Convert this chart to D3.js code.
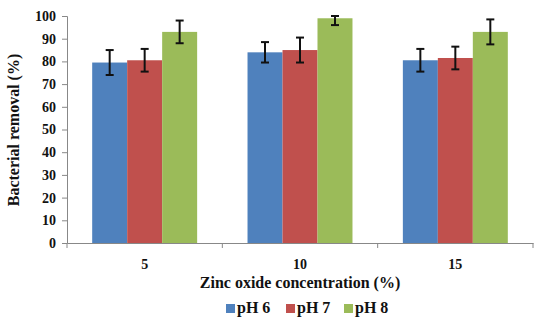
<!DOCTYPE html>
<html>
<head>
<meta charset="utf-8">
<script src="https://cdn.jsdelivr.net/npm/d3@7"></script>
<style>
  body { margin: 0; background: #fff; }
  text { font-family: "Liberation Serif", "Times New Roman", serif; font-weight: bold; fill: #111; }
</style>
</head>
<body>
<div id="svg-area"></div>
<script>
// Data
var concentrations = ["5", "10", "15"];
var seriesNames = ["pH 6", "pH 7", "pH 8"];
var ph6 = [79.5, 84, 80.5];
var ph7 = [80.5, 85, 81.5];
var ph8 = [93, 99, 93];
var ph6Err = [5.5, 4.5, 5];
var ph7Err = [5, 5.5, 5];
var ph8Err = [5, 3, 5.5];
var yTicks = [0, 10, 20, 30, 40, 50, 60, 70, 80, 90, 100];
var colors = ["#4f81bd", "#c0504d", "#9bbb59"];

var values = [ph6, ph7, ph8];
var errors = [ph6Err, ph7Err, ph8Err];

var svgWidth = 534;
var svgHeight = 321;

var margin = { top: 16, right: 1, bottom: 78, left: 67 };
var chartWidth = svgWidth - margin.left - margin.right;
var chartHeight = svgHeight - margin.top - margin.bottom;

var svg = d3.select("#svg-area")
  .append("svg")
  .attr("width", svgWidth)
  .attr("height", svgHeight);

var chartGroup = svg.append("g")
  .attr("transform", `translate(${margin.left}, ${margin.top})`);

var xBandScale = d3.scaleBand()
  .domain(concentrations)
  .range([0, chartWidth])
  .paddingInner(0)
  .paddingOuter(0);

var xInner = d3.scaleBand()
  .domain(seriesNames)
  .range([0, xBandScale.bandwidth()])
  .paddingOuter(0.72)
  .paddingInner(0);

var yLinearScale = d3.scaleLinear()
  .domain([0, 100])
  .range([chartHeight, 0]);

// bars
seriesNames.forEach(function(name, s) {
  chartGroup.selectAll(".bar-" + s)
    .data(concentrations)
    .enter()
    .append("rect")
    .attr("x", d => xBandScale(d) + xInner(name))
    .attr("y", (d, i) => yLinearScale(values[s][i]))
    .attr("width", xInner.bandwidth())
    .attr("height", (d, i) => chartHeight - yLinearScale(values[s][i]))
    .attr("fill", colors[s]);
});

// error bars
seriesNames.forEach(function(name, s) {
  concentrations.forEach(function(c, i) {
    var cx = xBandScale(c) + xInner(name) + xInner.bandwidth() / 2;
    var hi = yLinearScale(Math.min(100, values[s][i] + errors[s][i]));
    var lo = yLinearScale(values[s][i] - errors[s][i]);
    var g = chartGroup.append("g").attr("stroke", "#111").attr("stroke-width", 2);
    g.append("line").attr("x1", cx).attr("x2", cx).attr("y1", hi).attr("y2", lo);
    g.append("line").attr("x1", cx - 4).attr("x2", cx + 4).attr("y1", hi).attr("y2", hi);
    g.append("line").attr("x1", cx - 4).attr("x2", cx + 4).attr("y1", lo).attr("y2", lo);
  });
});

// axes
var bottomAxis = d3.axisBottom(xBandScale).tickSize(0).tickPadding(16);
var leftAxis = d3.axisLeft(yLinearScale).tickValues(yTicks).tickSize(5).tickPadding(6);

var xAxisG = chartGroup.append("g")
  .attr("transform", `translate(0, ${chartHeight})`)
  .call(bottomAxis);
xAxisG.select(".domain").attr("stroke", "#888");
xAxisG.selectAll("text").attr("font-size", 14);

// category separator ticks
chartGroup.selectAll(".sep")
  .data([0, 1, 2, 3])
  .enter()
  .append("line")
  .attr("x1", d => d * xBandScale.step())
  .attr("x2", d => d * xBandScale.step())
  .attr("y1", chartHeight)
  .attr("y2", chartHeight + 5)
  .attr("stroke", "#888");

var yAxisG = chartGroup.append("g").call(leftAxis);
yAxisG.select(".domain").attr("stroke", "#888");
yAxisG.selectAll(".tick line").attr("stroke", "#888");
yAxisG.selectAll("text").attr("font-size", 14);

// axis titles
svg.append("text")
  .attr("x", 300)
  .attr("y", 288)
  .attr("text-anchor", "middle")
  .attr("font-size", 16)
  .text("Zinc oxide concentration (%)");

svg.append("text")
  .attr("transform", `translate(19, 130) rotate(-90)`)
  .attr("text-anchor", "middle")
  .attr("font-size", 16)
  .text("Bacterial removal (%)");

// legend
var legend = svg.append("g").attr("transform", "translate(226, 313)");
var legendX = [0, 60, 118];
seriesNames.forEach(function(name, s) {
  legend.append("rect")
    .attr("x", legendX[s])
    .attr("y", -9)
    .attr("width", 9)
    .attr("height", 9)
    .attr("fill", colors[s]);
  legend.append("text")
    .attr("x", legendX[s] + 11)
    .attr("y", 0)
    .attr("font-size", 16)
    .text(name);
});
</script>
</body>
</html>
